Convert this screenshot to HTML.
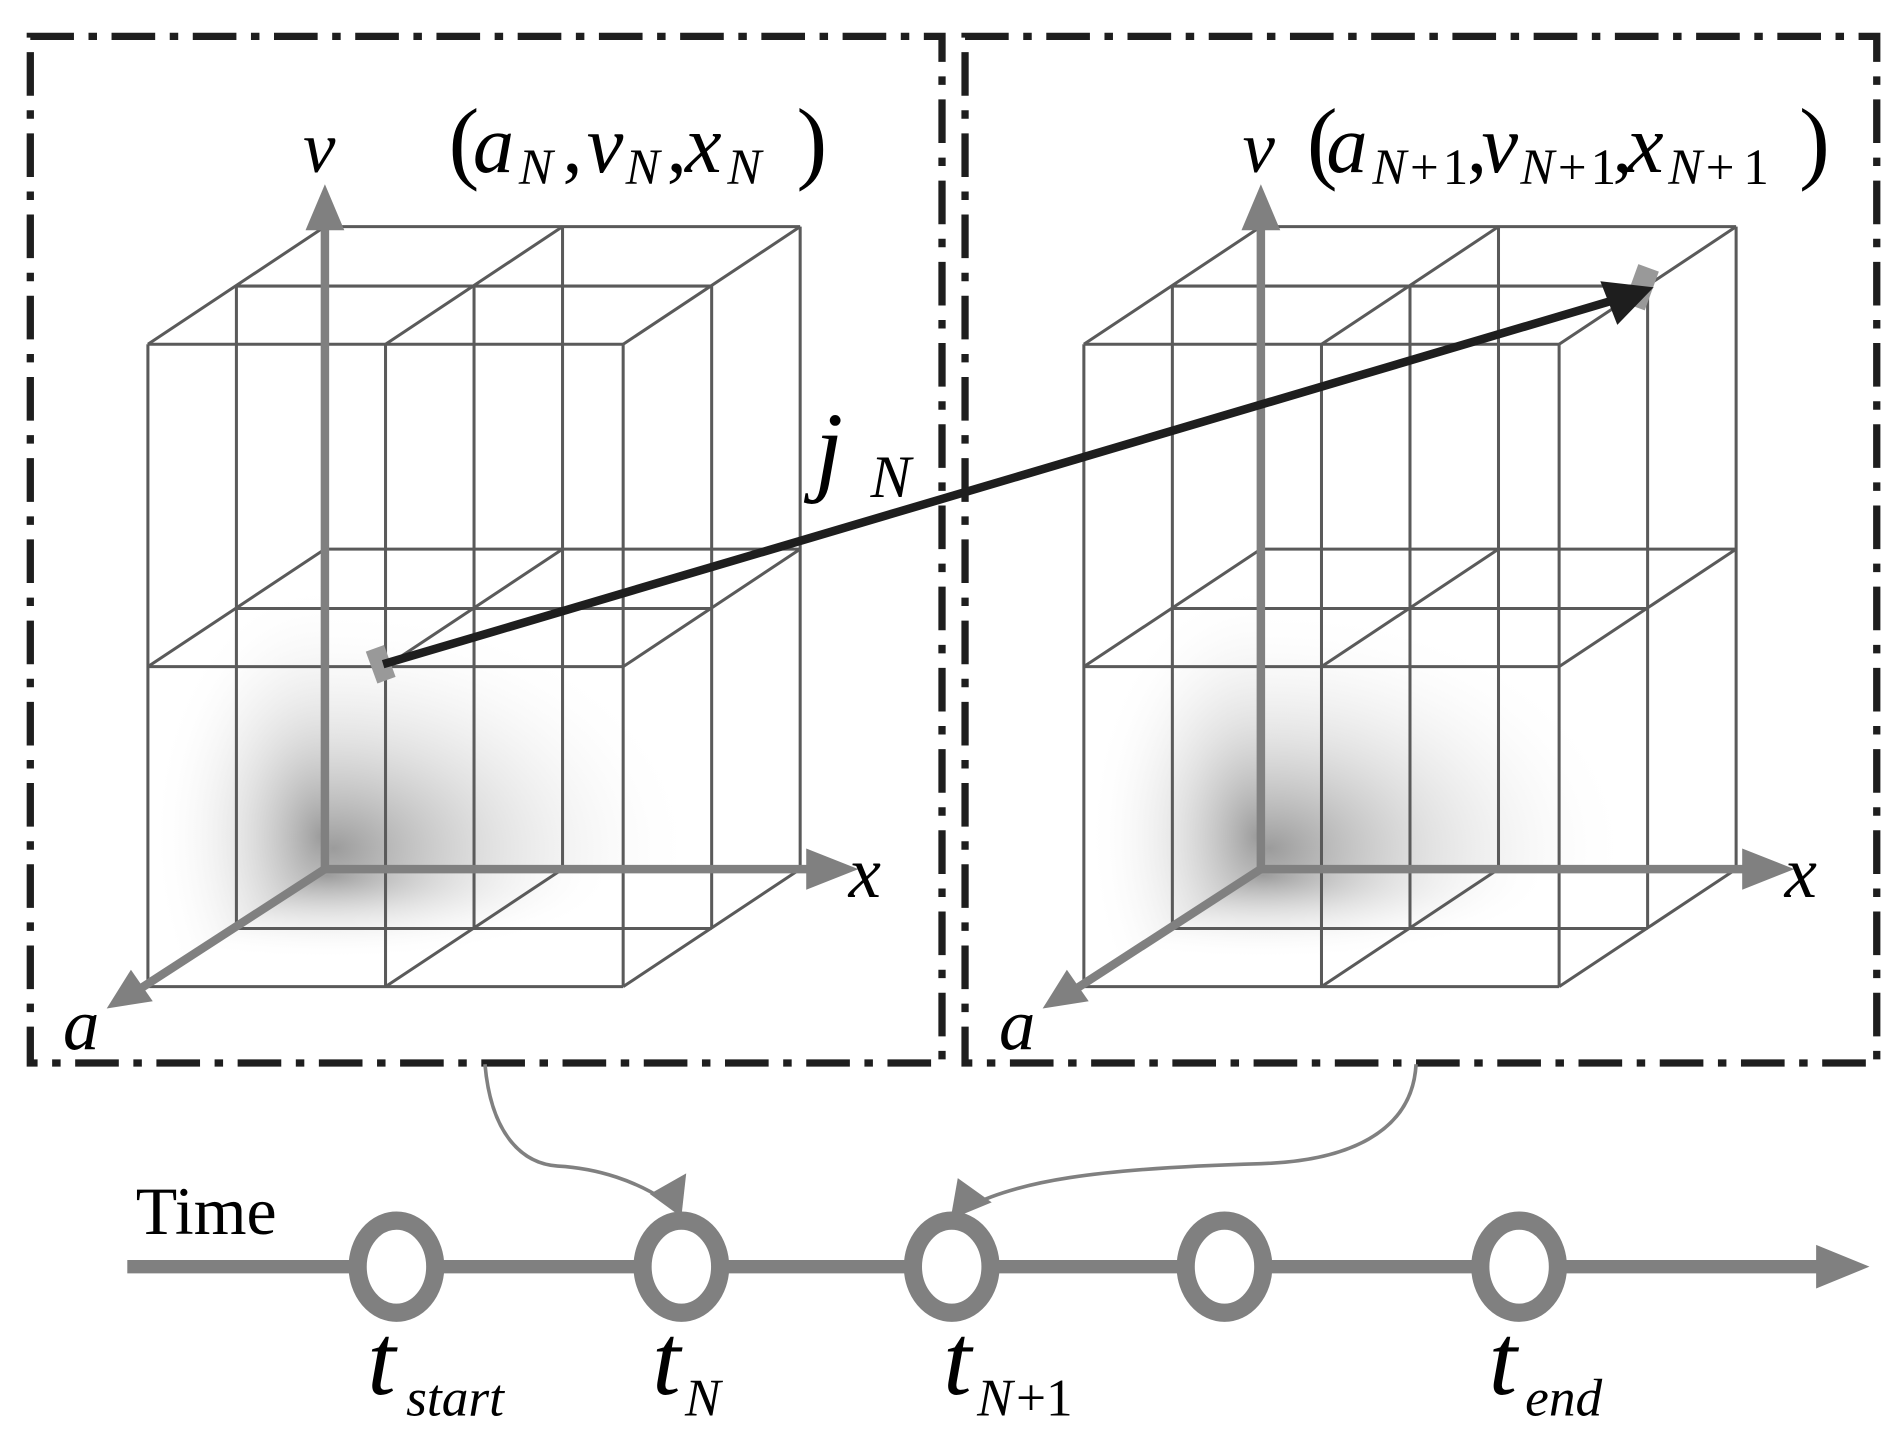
<!DOCTYPE html>
<html><head><meta charset="utf-8"><style>html,body{margin:0;padding:0;background:#fff}svg{display:block}</style></head>
<body>
<svg width="1901" height="1440" viewBox="0 0 1568 1188" preserveAspectRatio="none" xmlns="http://www.w3.org/2000/svg">
<defs>
<radialGradient id="sh" cx="0.5" cy="0.5" r="0.5">
<stop offset="0" stop-color="#8a8a8a" stop-opacity="0.85"/>
<stop offset="0.45" stop-color="#c0c0c0" stop-opacity="0.45"/>
<stop offset="1" stop-color="#fff" stop-opacity="0"/>
</radialGradient>
<clipPath id="cb"><polygon points="268,453 660,453 660,717 268,717"/></clipPath>
<clipPath id="cl"><polygon points="122,550 268,453 268,717 122,814"/></clipPath>
<clipPath id="cf"><polygon points="268,717 660,717 514,814 122,814"/></clipPath>
<g id="cube">
<g clip-path="url(#cb)"><ellipse cx="275" cy="700" rx="300" ry="200" fill="url(#sh)"/></g>
<g clip-path="url(#cl)"><ellipse cx="265" cy="690" rx="140" ry="210" fill="url(#sh)"/></g>
<g clip-path="url(#cf)"><ellipse cx="270" cy="722" rx="240" ry="70" fill="url(#sh)"/></g>
<g stroke="#5a5a5a" stroke-width="2.5" fill="none">
<path d="M268 187H660M268 453H660M268 717H660M268 187V717M464 187V717M660 187V717"/>
<path d="M195 236H587M195 502H587M195 766H587M195 236V766M391 236V766M587 236V766"/>
<path d="M122 284H514M122 550H514M122 814H514M122 284V814M318 284V814M514 284V814"/>
<path d="M268 187L122 284M464 187L318 284M660 187L514 284M268 453L122 550M464 453L318 550M660 453L514 550M464 717L318 814M660 717L514 814"/>
</g>
<g stroke="#808080" stroke-width="7" fill="#808080">
<line x1="268" y1="717" x2="268" y2="185"/>
<line x1="268" y1="717" x2="670" y2="717"/>
<line x1="268" y1="717" x2="112" y2="818"/>
</g>
<polygon points="268,152 252,190 284,190" fill="#808080"/>
<polygon points="708,717 665,700 665,734" fill="#808080"/>
<polygon points="88,832 108,800 126,826" fill="#808080"/>
</g>
</defs>
<use href="#cube"/>
<use href="#cube" transform="translate(772,0)"/>

<g fill="none" stroke="#1e1e1e" stroke-width="6" stroke-dasharray="36 12 7 12">
<rect x="25" y="30" width="752" height="847"/>
<rect x="796" y="30" width="752" height="847"/>
</g>

<rect x="306" y="534" width="16" height="28" fill="#999" transform="rotate(-20 314 548)"/>
<rect x="1345" y="220" width="18" height="34" fill="#999" transform="rotate(20 1354 237)"/>
<line x1="316" y1="548" x2="1330" y2="248" stroke="#1e1e1e" stroke-width="7"/>
<polygon points="1364,237 1320,232 1334,268" fill="#1e1e1e"/>

<g font-family="'Liberation Serif', serif" font-style="italic" fill="#000">
<text x="250" y="142" font-size="60">v</text>
<text x="1025" y="142" font-size="60">v</text>
<text x="700" y="740" font-size="60">x</text>
<text x="1472" y="740" font-size="60">x</text>
<text x="52" y="866" font-size="60">a</text>
<text x="824" y="866" font-size="60">a</text>
<text x="672" y="398" font-size="84">j</text>
<text x="718" y="410" font-size="50">N</text>
<text x="370" y="142" font-size="76" font-style="normal">(</text>
<text x="390" y="142" font-size="68">a</text><text x="428" y="152" font-size="42">N</text>
<text x="464" y="142" font-size="66" font-style="normal">,</text>
<text x="484" y="142" font-size="68">v</text><text x="516" y="152" font-size="42">N</text>
<text x="550" y="142" font-size="66" font-style="normal">,</text>
<text x="565" y="142" font-size="68">x</text><text x="600" y="152" font-size="42">N</text>
<text x="657" y="142" font-size="76" font-style="normal">)</text>
<text x="1078" y="142" font-size="76" font-style="normal">(</text>
<text x="1094" y="142" font-size="68">a</text><text x="1132" y="152" font-size="42">N</text><text x="1163" y="152" font-size="42" font-style="normal" textLength="48">+1</text>
<text x="1210" y="142" font-size="66" font-style="normal">,</text>
<text x="1222" y="142" font-size="68">v</text><text x="1254" y="152" font-size="42">N</text><text x="1285" y="152" font-size="42" font-style="normal" textLength="48">+1</text>
<text x="1330" y="142" font-size="66" font-style="normal">,</text>
<text x="1342" y="142" font-size="68">x</text><text x="1376" y="152" font-size="42">N</text><text x="1407" y="152" font-size="42" font-style="normal" textLength="52">+1</text>
<text x="1484" y="142" font-size="76" font-style="normal">)</text>
</g>

<g fill="none" stroke="#808080" stroke-width="3">
<path d="M400 878 C405 935 430 960 460 962 C495 964 525 975 548 990"/>
<path d="M1168 878 C1165 935 1110 958 1040 960 C900 964 840 975 800 995"/>
</g>
<polygon points="562,1004 536,985 566,968" fill="#808080"/>
<polygon points="784,1006 790,972 818,992" fill="#808080"/>

<line x1="105" y1="1045" x2="1505" y2="1045" stroke="#808080" stroke-width="11"/>
<polygon points="1542,1045 1498,1027 1498,1063" fill="#808080"/>
<g fill="#fff" stroke="#808080" stroke-width="15">
<ellipse cx="327" cy="1045" rx="32" ry="38"/>
<ellipse cx="562" cy="1045" rx="32" ry="38"/>
<ellipse cx="785" cy="1045" rx="32" ry="38"/>
<ellipse cx="1010" cy="1045" rx="32" ry="38"/>
<ellipse cx="1253" cy="1045" rx="32" ry="38"/>
</g>
<text x="112" y="1018" font-family="'Liberation Serif', serif" font-size="56">Time</text>
<g font-family="'Liberation Serif', serif" font-style="italic" fill="#000">
<text x="303" y="1150" font-size="84">t</text><text x="335" y="1168" font-size="44">start</text>
<text x="538" y="1150" font-size="84">t</text><text x="565" y="1168" font-size="44">N</text>
<text x="778" y="1150" font-size="84">t</text><text x="806" y="1168" font-size="44">N</text><text x="838" y="1168" font-size="44" font-style="normal">+1</text>
<text x="1228" y="1150" font-size="84">t</text><text x="1258" y="1168" font-size="44">end</text>
</g>
</svg>
</body></html>
